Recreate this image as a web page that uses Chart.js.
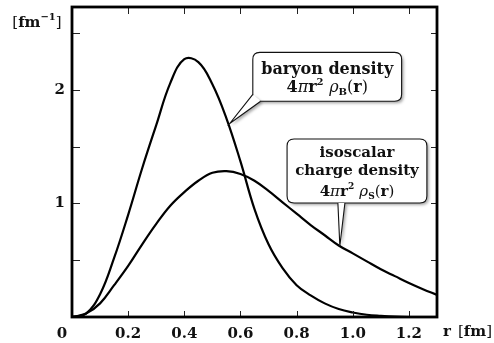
<!DOCTYPE html>
<html>
<head>
<meta charset="utf-8">
<script src="https://cdn.jsdelivr.net/npm/chart.js@4"></script>
<style>
  html, body { margin: 0; padding: 0; background: #fff; }
  #wrap { width: 494px; height: 343px; }
</style>
</head>
<body>
<div id="wrap"><canvas id="densityChart" width="494" height="343"></canvas></div>
<script>
// radius grid [fm] and densities
const radius = [0, 0.05, 0.1, 0.15, 0.2, 0.25, 0.3, 0.35, 0.4, 0.45, 0.5, 0.55, 0.6, 0.65,
  0.7, 0.75, 0.8, 0.85, 0.9, 0.95, 1.0, 1.05, 1.1, 1.15, 1.2, 1.25, 1.3];
const baryonDensity = [0, 0.03, 0.2, 0.52, 0.9, 1.31, 1.69, 2.06, 2.27, 2.245, 2.05, 1.75, 1.37, 0.95,
  0.64, 0.43, 0.28, 0.19, 0.12, 0.07, 0.04, 0.02, 0.01, 0.003, 0, 0, 0];
const isoscalarDensity = [0, 0.03, 0.12, 0.28, 0.45, 0.64, 0.82, 0.98, 1.1, 1.2, 1.27, 1.285, 1.26, 1.2,
  1.11, 1.01, 0.91, 0.81, 0.72, 0.63, 0.56, 0.49, 0.42, 0.36, 0.3, 0.245, 0.195];

const xTicks = [0.2, 0.4, 0.6, 0.8, 1.0, 1.2];
const yTicks = [0.5, 1, 1.5, 2, 2.5];
const yLabels = [1, 2];

const SERIF = '"DejaVu Serif", "Liberation Serif", serif';
const font = (size, style = '') => `${style} ${size}px ${SERIF}`.trim();
const TB = font(15, 'bold');
const TR = font(15);
const SUP = font(10, 'bold');

function mathLine(size, sub) {
  return [
    { t: '4', font: font(size, 'bold') }, { t: 'π', font: font(size, 'italic') }, { t: 'r', font: font(size, 'bold') },
    { t: '2', font: font(size - 6, 'bold'), dy: -7 }, { t: ' ', font: font(size, 'bold') },
    { t: 'ρ', font: font(size, 'italic') }, { t: sub, font: font(size - 6, 'bold'), dy: 3 },
    { t: '(', font: font(size) }, { t: 'r', font: font(size, 'bold') }, { t: ')', font: font(size) }
  ];
}

// callouts, placed in data coordinates
const callouts = [
  {
    box: [0.644, 1.174, 2.33, 1.9],
    tip: [0.562, 1.705],
    base: [[0.644, 1.96], [0.672, 1.9]],
    lines: [[{ t: 'baryon density', font: font(16, 'bold') }], mathLine(16, 'B')],
    baselines: [22, 40]
  },
  {
    box: [0.766, 1.264, 1.568, 1.004],
    tip: [0.954, 0.625],
    base: [[0.947, 1.004], [0.972, 1.004]],
    lines: [
      [{ t: 'isoscalar', font: font(15, 'bold') }],
      [{ t: 'charge density', font: font(15, 'bold') }],
      mathLine(15, 'S')
    ],
    baselines: [18, 36, 57]
  }
];

function drawRich(ctx, parts, cx, y) {
  let w = 0;
  parts.forEach((p) => { ctx.font = p.font; p.w = ctx.measureText(p.t).width; w += p.w; });
  let x = cx - w / 2;
  parts.forEach((p) => { ctx.font = p.font; ctx.fillText(p.t, x, y + (p.dy || 0)); x += p.w; });
}

function roundRect(ctx, x0, y0, x1, y1, r) {
  ctx.moveTo(x0 + r, y0);
  ctx.lineTo(x1 - r, y0);
  ctx.quadraticCurveTo(x1, y0, x1, y0 + r);
  ctx.lineTo(x1, y1 - r);
  ctx.quadraticCurveTo(x1, y1, x1 - r, y1);
  ctx.lineTo(x0 + r, y1);
  ctx.quadraticCurveTo(x0, y1, x0, y1 - r);
  ctx.lineTo(x0, y0 + r);
  ctx.quadraticCurveTo(x0, y0, x0 + r, y0);
}

const decorations = {
  id: 'decorations',
  afterDatasetsDraw(chart) {
    const { ctx, chartArea: a, scales: { x, y } } = chart;
    ctx.save();

    // inward tick marks on all four sides
    ctx.strokeStyle = '#222';
    ctx.lineWidth = 1;
    ctx.beginPath();
    xTicks.forEach((v) => {
      const px = Math.round(x.getPixelForValue(v)) + 0.5;
      ctx.moveTo(px, a.bottom); ctx.lineTo(px, a.bottom - 6);
      ctx.moveTo(px, a.top); ctx.lineTo(px, a.top + 7);
    });
    yTicks.forEach((v) => {
      const py = Math.round(y.getPixelForValue(v)) + 0.5;
      ctx.moveTo(a.left, py); ctx.lineTo(a.left + 8, py);
      ctx.moveTo(a.right, py); ctx.lineTo(a.right - 6, py);
    });
    ctx.stroke();

    // frame
    ctx.lineWidth = 2.8;
    ctx.strokeStyle = '#000';
    ctx.strokeRect(a.left, a.top, a.right - a.left, a.bottom - a.top);

    // callouts
    callouts.forEach((c) => {
      const x0 = x.getPixelForValue(c.box[0]);
      const x1 = x.getPixelForValue(c.box[1]);
      const y0 = y.getPixelForValue(c.box[2]);
      const y1 = y.getPixelForValue(c.box[3]);
      const tx = x.getPixelForValue(c.tip[0]);
      const ty = y.getPixelForValue(c.tip[1]);
      const b0 = [x.getPixelForValue(c.base[0][0]), y.getPixelForValue(c.base[0][1])];
      const b1 = [x.getPixelForValue(c.base[1][0]), y.getPixelForValue(c.base[1][1])];

      ctx.save();
      ctx.shadowColor = 'rgba(0,0,0,0.35)';
      ctx.shadowBlur = 3;
      ctx.shadowOffsetX = 2;
      ctx.shadowOffsetY = 2;
      ctx.fillStyle = '#fff';
      ctx.beginPath();
      roundRect(ctx, x0, y0, x1, y1, 7);
      ctx.fill();
      ctx.beginPath();
      ctx.moveTo(b0[0], b0[1]); ctx.lineTo(tx, ty); ctx.lineTo(b1[0], b1[1]);
      ctx.closePath();
      ctx.fill();
      ctx.restore();

      ctx.lineWidth = 1.1;
      ctx.strokeStyle = '#111';
      ctx.beginPath();
      roundRect(ctx, x0, y0, x1, y1, 7);
      ctx.stroke();
      // cover the outline where the pointer joins, then draw pointer edges
      ctx.fillStyle = '#fff';
      ctx.beginPath();
      ctx.moveTo(b0[0], b0[1]); ctx.lineTo(tx, ty); ctx.lineTo(b1[0], b1[1]);
      ctx.closePath();
      ctx.fill();
      ctx.beginPath();
      ctx.moveTo(b0[0], b0[1]); ctx.lineTo(tx, ty); ctx.lineTo(b1[0], b1[1]);
      ctx.stroke();

      ctx.fillStyle = '#111';
      ctx.textBaseline = 'alphabetic';
      const cx = (x0 + x1) / 2;
      c.lines.forEach((parts, i) => drawRich(ctx, parts, cx, y0 + c.baselines[i]));
    });

    // corner and unit labels
    ctx.fillStyle = '#111';
    ctx.textBaseline = 'alphabetic';
    drawRich(ctx, [{ t: '0', font: TB }], x.getPixelForValue(0) - 10, a.bottom + 21);
    drawRich(ctx, [{ t: '[', font: TR }, { t: 'fm', font: TB }, { t: '−1', font: SUP, dy: -7 }, { t: ']', font: TR }], 37, 27);
    drawRich(ctx, [{ t: 'r', font: TB }], a.right + 10, a.bottom + 19);
    drawRich(ctx, [{ t: '[', font: TR }, { t: 'fm', font: TB }, { t: ']', font: TR }], 475, a.bottom + 19);

    ctx.restore();
  }
};

new Chart(document.getElementById('densityChart'), {
  type: 'line',
  data: {
    datasets: [
      {
        label: 'baryon density',
        data: radius.map((r, i) => ({ x: r, y: baryonDensity[i] })),
        borderColor: '#000',
        borderWidth: 2.2,
        pointRadius: 0,
        tension: 0.4
      },
      {
        label: 'isoscalar charge density',
        data: radius.map((r, i) => ({ x: r, y: isoscalarDensity[i] })),
        borderColor: '#000',
        borderWidth: 2.2,
        pointRadius: 0,
        tension: 0.4
      }
    ]
  },
  options: {
    responsive: false,
    animation: false,
    layout: { padding: { left: 0, top: 7, right: 57, bottom: 0 } },
    plugins: { legend: { display: false }, tooltip: { enabled: false } },
    scales: {
      x: {
        type: 'linear',
        min: 0,
        max: 1.3,
        afterBuildTicks: (s) => { s.ticks = xTicks.map((v) => ({ value: v })); },
        afterFit: (s) => { s.height = 26; s.paddingLeft = 0; s.paddingRight = 0; },
        grid: { display: false, drawTicks: false },
        border: { display: false },
        ticks: {
          color: '#111',
          font: { family: SERIF, size: 15, weight: 'bold' },
          padding: 8,
          maxRotation: 0,
          callback: (v) => v.toFixed(1)
        }
      },
      y: {
        type: 'linear',
        min: 0,
        max: 2.73,
        afterBuildTicks: (s) => { s.ticks = yTicks.map((v) => ({ value: v })); },
        afterFit: (s) => { s.width = 72; s.paddingTop = 0; s.paddingBottom = 0; },
        grid: { display: false, drawTicks: false },
        border: { display: false },
        ticks: {
          color: '#111',
          font: { family: SERIF, size: 15, weight: 'bold' },
          padding: 7,
          callback: (v) => (yLabels.includes(v) ? String(v) : '')
        }
      }
    }
  },
  plugins: [decorations]
});
</script>
</body>
</html>
